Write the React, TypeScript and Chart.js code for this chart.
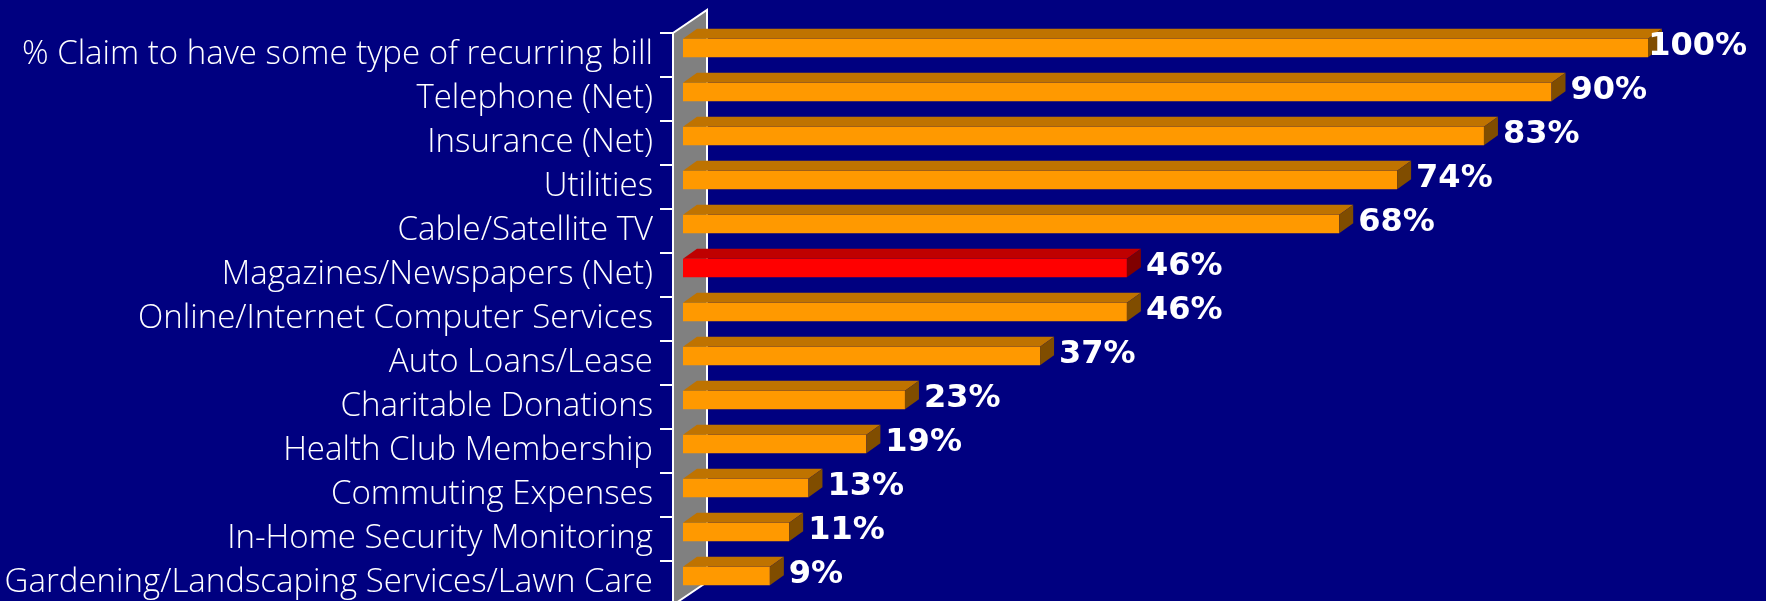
import { useEffect, useRef } from "react";
import { Chart, registerables } from "chart.js";

Chart.register(...registerables);

// Recurring bills held by respondents
const categories = [
  "% Claim to have some type of recurring bill",
  "Telephone (Net)",
  "Insurance (Net)",
  "Utilities",
  "Cable/Satellite TV",
  "Magazines/Newspapers (Net)",
  "Online/Internet Computer Services",
  "Auto Loans/Lease",
  "Charitable Donations",
  "Health Club Membership",
  "Commuting Expenses",
  "In-Home Security Monitoring",
  "Gardening/Landscaping Services/Lawn Care",
];

const shares = [100, 90, 83, 74, 68, 46, 46, 37, 23, 19, 13, 11, 9];

// The category singled out in red
const highlightedCategory = "Magazines/Newspapers (Net)";

const valueLabels = shares.map((v) => `${v}%`);

const CANVAS_W = 1766;
const CANVAS_H = 605;

// 3-D geometry: wall depth, where the bars' front face sits in depth, and bar depth
const WALL = { dx: 34, dy: -23 };
const FRONT = { dx: 10, dy: -7 };
const DEPTH = { dx: 14, dy: -10 };

const LABEL_FONT_SIZE = 32;

const COLORS = {
  bg: "#000080",
  wall: "#808080",
  orange: { front: "#FF9900", top: "#BF7300", side: "#804D00" },
  red: { front: "#FF0000", top: "#BF0000", side: "#800000" },
};

const isHighlighted = (i: number) => categories[i] === highlightedCategory;

const threeDPlugin = {
  id: "threeD",
  beforeDatasetsDraw(chart: any) {
    const { ctx, chartArea: a } = chart;
    // back wall of the category axis
    ctx.save();
    ctx.beginPath();
    ctx.moveTo(a.left, a.top);
    ctx.lineTo(a.left + WALL.dx, a.top + WALL.dy);
    ctx.lineTo(a.left + WALL.dx, a.bottom + WALL.dy);
    ctx.lineTo(a.left, a.bottom);
    ctx.closePath();
    ctx.fillStyle = COLORS.wall;
    ctx.fill();
    ctx.strokeStyle = "#FFFFFF";
    ctx.lineWidth = 2;
    ctx.stroke();
    ctx.restore();
    // bars sit part-way into the depth of the plot box
    ctx.save();
    ctx.translate(FRONT.dx, FRONT.dy);
  },
  afterDatasetsDraw(chart: any) {
    const ctx = chart.ctx;
    const meta = chart.getDatasetMeta(0);
    meta.data.forEach((bar: any, i: number) => {
      const { x, y, base, height } = bar.getProps(["x", "y", "base", "height"], true);
      const top = y - height / 2;
      const bot = y + height / 2;
      const pal = isHighlighted(i) ? COLORS.red : COLORS.orange;
      // top face
      ctx.beginPath();
      ctx.moveTo(base, top);
      ctx.lineTo(base + DEPTH.dx, top + DEPTH.dy);
      ctx.lineTo(x + DEPTH.dx, top + DEPTH.dy);
      ctx.lineTo(x, top);
      ctx.closePath();
      ctx.fillStyle = pal.top;
      ctx.fill();
      // side face
      ctx.beginPath();
      ctx.moveTo(x, top);
      ctx.lineTo(x + DEPTH.dx, top + DEPTH.dy);
      ctx.lineTo(x + DEPTH.dx, bot + DEPTH.dy);
      ctx.lineTo(x, bot);
      ctx.closePath();
      ctx.fillStyle = pal.side;
      ctx.fill();
    });
    ctx.restore();

    // value labels
    ctx.save();
    ctx.font = `bold ${LABEL_FONT_SIZE}px 'DejaVu Sans'`;
    ctx.fillStyle = "#FFFFFF";
    ctx.textAlign = "left";
    ctx.textBaseline = "alphabetic";
    meta.data.forEach((bar: any, i: number) => {
      const { x, y } = bar.getProps(["x", "y"], true);
      const text = valueLabels[i];
      const w = ctx.measureText(text).width;
      const tx = Math.min(x + FRONT.dx + DEPTH.dx + 5, CANVAS_W - 19 - w);
      const cy = y + FRONT.dy - 5;
      ctx.fillText(text, tx, cy + LABEL_FONT_SIZE * 0.365);
    });
    ctx.restore();
  },
};

export default function App() {
  const canvasRef = useRef<HTMLCanvasElement | null>(null);

  useEffect(() => {
    const canvas = canvasRef.current;
    if (!canvas) return;
    const chart = new Chart(canvas, {
      type: "bar",
      data: {
        labels: categories,
        datasets: [
          {
            data: shares,
            backgroundColor: shares.map((_, i) =>
              isHighlighted(i) ? COLORS.red.front : COLORS.orange.front
            ),
            borderWidth: 0,
            barPercentage: 0.5,
            categoryPercentage: 0.84,
            clip: false as any,
          },
        ],
      },
      options: {
        indexAxis: "y",
        responsive: false,
        animation: false,
        devicePixelRatio: 1,
        events: [],
        layout: { padding: { top: 33, right: 128, bottom: 0, left: 0 } },
        plugins: {
          legend: { display: false },
          tooltip: { enabled: false },
        },
        scales: {
          x: {
            display: false,
            min: 0,
            max: 100,
          },
          y: {
            position: "left",
            afterFit: (scale: any) => {
              scale.width = 673;
              scale.paddingTop = 0;
              scale.paddingBottom = 0;
            },
            border: { display: false },
            grid: {
              display: true,
              drawOnChartArea: false,
              drawTicks: true,
              tickLength: 13,
              color: "#FFFFFF",
              lineWidth: 2,
              offset: true,
            },
            ticks: {
              autoSkip: false,
              color: "#FFFFFF",
              padding: 7,
              font: { family: "'Open Sans'", size: 33, weight: 300 as any },
            },
          },
        },
      },
      plugins: [threeDPlugin],
    });
    return () => chart.destroy();
  }, []);

  return (
    <div
      style={{
        position: "fixed",
        left: 0,
        top: 0,
        width: CANVAS_W,
        height: 601,
        overflow: "hidden",
        background: COLORS.bg,
      }}
    >
      <canvas ref={canvasRef} width={CANVAS_W} height={CANVAS_H} style={{ display: "block" }} />
    </div>
  );
}
